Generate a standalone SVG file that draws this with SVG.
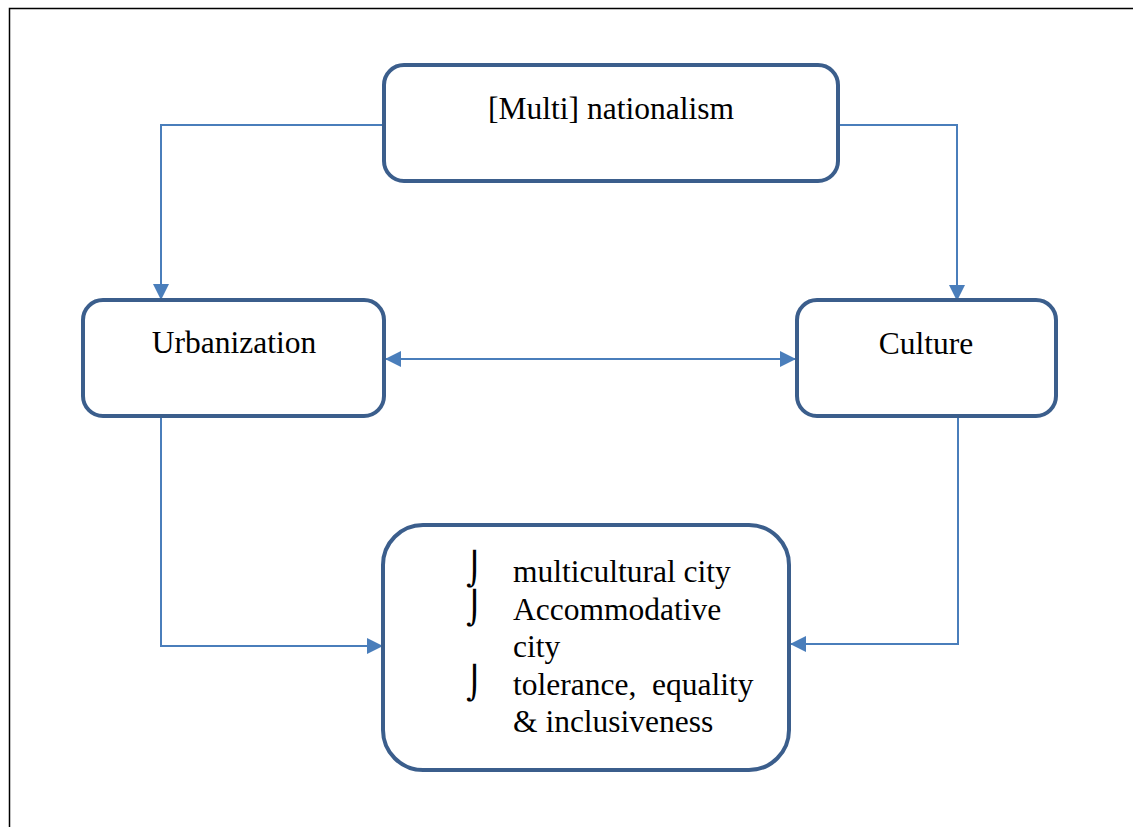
<svg xmlns="http://www.w3.org/2000/svg" width="1133" height="827" viewBox="0 0 1133 827">
  <defs>
    <marker id="arr" markerWidth="16" markerHeight="16" refX="15" refY="8" orient="auto-start-reverse" markerUnits="userSpaceOnUse">
      <path d="M0,0 L16,8 L0,16 Z" fill="#4a7ebb"/>
    </marker>
    <style>
      .box { fill: #ffffff; stroke: #3b5e8c; stroke-width: 4; }
      .lbl { font-family: "Liberation Serif", "Times New Roman", serif; font-size: 31.5px; fill: #000; }
      .con { fill: none; stroke: #4a7ebb; stroke-width: 2; }
      .blt { font-family: "DejaVu Sans", sans-serif; font-size: 32px; fill: #000; }
      .frame { stroke: #000; stroke-width: 1.5; fill: none; }
    </style>
  </defs>
  <rect x="0" y="0" width="1133" height="827" fill="#ffffff"/>
  <g id="frame">
    <path class="frame" d="M9.5,827 L9.5,8.5 L1133,8.5"/>
  </g>

  <g id="connectors">
    <polyline class="con" points="384,125 161,125 161,299" marker-end="url(#arr)"/>
    <polyline class="con" points="838,125 957,125 957,300" marker-end="url(#arr)"/>
    <line class="con" x1="386" y1="359" x2="795" y2="359" marker-start="url(#arr)" marker-end="url(#arr)"/>
    <polyline class="con" points="161,418 161,646 382,646" marker-end="url(#arr)"/>
    <polyline class="con" points="958,418 958,644 791,644" marker-end="url(#arr)"/>
  </g>

  <g id="node-multinationalism">
    <rect class="box" x="384" y="65" width="454" height="116" rx="20" ry="20"/>
    <text class="lbl" x="611" y="119" text-anchor="middle">[Multi] nationalism</text>
  </g>

  <g id="node-urbanization">
    <rect class="box" x="83" y="300" width="301" height="116" rx="20" ry="20"/>
    <text class="lbl" x="234" y="353" text-anchor="middle">Urbanization</text>
  </g>

  <g id="node-culture">
    <rect class="box" x="797" y="300" width="259" height="116" rx="20" ry="20"/>
    <text class="lbl" x="926" y="354" text-anchor="middle">Culture</text>
  </g>

  <g id="node-outcome">
    <rect class="box" x="383" y="525" width="406" height="245" rx="40" ry="40"/>
    <text class="blt" x="466" y="580">⌡</text>
    <text class="blt" x="466" y="619">⌡</text>
    <text class="blt" x="466" y="694">⌡</text>
    <text class="lbl" x="513" y="582">multicultural city</text>
    <text class="lbl" x="513" y="620">Accommodative</text>
    <text class="lbl" x="513" y="657">city</text>
    <text class="lbl" x="513" y="695" xml:space="preserve">tolerance, <tspan x="652">equality</tspan></text>
    <text class="lbl" x="513" y="732">&amp; inclusiveness</text>
  </g>
</svg>
